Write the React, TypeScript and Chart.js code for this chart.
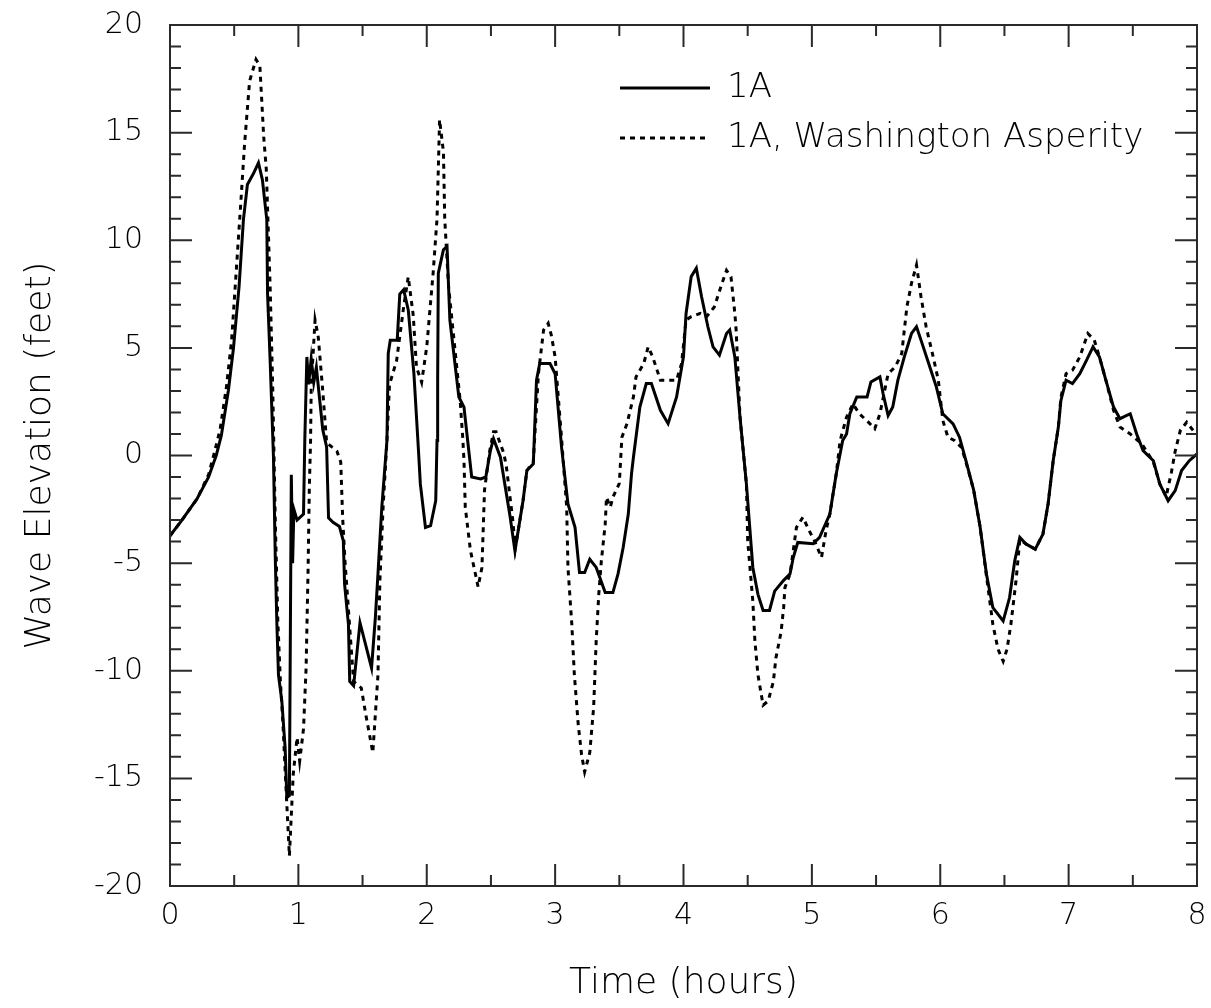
import React, { useEffect, useRef } from "react";
import { Chart, registerables } from "chart.js";

Chart.register(...registerables);

// Time (hours) and wave elevation (feet)
const solidTime = [
  0.0, 0.09, 0.21, 0.3, 0.36, 0.4, 0.455, 0.494, 0.538, 0.572, 0.603, 0.65, 0.689, 0.72, 0.754, 0.76, 0.78, 0.806,
  0.82, 0.832, 0.845, 0.871, 0.897, 0.91, 0.93, 0.945, 0.955, 0.965, 0.99, 1.04, 1.05, 1.066, 1.08, 1.1, 1.12, 1.14,
  1.19, 1.22, 1.235, 1.27, 1.32, 1.35, 1.36, 1.39, 1.4, 1.43, 1.48, 1.57, 1.6, 1.62, 1.65, 1.69, 1.7, 1.716, 1.77,
  1.79, 1.82, 1.856, 1.9, 1.937, 1.95, 1.99, 2.03, 2.07, 2.08, 2.085, 2.09, 2.13, 2.158, 2.18, 2.25, 2.29, 2.33, 2.35,
  2.42, 2.46, 2.496, 2.52, 2.574, 2.65, 2.687, 2.75, 2.78, 2.83, 2.855, 2.88, 2.96, 3.0, 3.05, 3.1, 3.155, 3.19, 3.23,
  3.27, 3.32, 3.39, 3.45, 3.49, 3.53, 3.57, 3.595, 3.61, 3.66, 3.71, 3.75, 3.82, 3.88, 3.946, 4.0, 4.02, 4.06, 4.1,
  4.14, 4.19, 4.23, 4.28, 4.335, 4.36, 4.4, 4.44, 4.49, 4.54, 4.58, 4.62, 4.67, 4.71, 4.78, 4.83, 4.855, 4.89, 5.01,
  5.06, 5.14, 5.19, 5.24, 5.27, 5.296, 5.35, 5.43, 5.46, 5.53, 5.555, 5.594, 5.63, 5.67, 5.72, 5.776, 5.815, 5.85,
  5.91, 5.97, 6.02, 6.1, 6.15, 6.2, 6.26, 6.31, 6.36, 6.41, 6.49, 6.54, 6.58, 6.62, 6.67, 6.74, 6.8, 6.84, 6.88, 6.92,
  6.94, 6.98, 7.03, 7.087, 7.14, 7.19, 7.24, 7.29, 7.35, 7.4, 7.48, 7.53, 7.58, 7.66, 7.71, 7.775, 7.83, 7.88, 7.94, 8.0,
];
const solidElev = [
  -3.73, -3.03, -2.02, -1.01, 0.0, 0.93, 3.03, 4.97, 7.85, 10.96, 12.59, 13.1, 13.6, 12.8, 10.96, 7.5, 4.43, -0.08,
  -4.74, -7.7, -10.2, -11.4, -13.6, -15.9, -15.8, -0.9, -5.0, -2.5, -3.0, -2.72, 0.7, 4.58, 3.3, 4.5, 3.4, 4.1,
  1.2, 0.4, -2.9, -3.1, -3.3, -3.96, -5.98, -7.85, -10.5, -10.7, -7.77, -9.87, -7.5, -5.5, -2.4, 0.7, 4.74, 5.36, 5.36,
  7.5, 7.7, 6.76, 3.8, 0.08, -1.32, -3.34, -3.26, -2.1, 0.7, 3.5, 8.47, 9.56, 9.71, 6.3, 2.72, 2.25, 0.08, -1.0,
  -1.09, -1.0, 0.23, 0.78, -0.08, -2.87, -4.43, -2.1, -0.7, -0.39, 3.5, 4.27, 4.27, 3.8, 0.39, -2.25, -3.34, -5.44, -5.44,
  -4.82, -5.2, -6.37, -6.37, -5.5, -4.27, -2.72, -0.85, -0.08, 2.25, 3.34, 3.34, 2.1, 1.48, 2.72, 4.6, 6.6, 8.31, 8.7,
  7.4, 5.98, 5.05, 4.66, 5.67, 5.83, 4.58, 1.79, -1.32, -5.2, -6.45, -7.2, -7.2, -6.3, -5.8, -5.5, -4.74, -4.04, -4.1,
  -3.8, -2.72, -0.85, 0.7, 1.0, 1.94, 2.72, 2.72, 3.42, 3.65, 2.87, 1.86, 2.25, 3.5, 4.58, 5.67, 5.98, 5.36,
  4.27, 3.18, 1.94, 1.47, 0.85, -0.24, -1.6, -3.3, -5.52, -7.07, -7.69, -6.6, -4.9, -3.8, -4.12, -4.35, -3.65, -2.25, -0.23, 1.32,
  2.56, 3.5, 3.34, 3.8, 4.43, 5.05, 4.58, 3.5, 2.25, 1.71, 1.94, 1.0, 0.23, -0.24, -1.32, -2.1, -1.63, -0.7, -0.24, 0.07,
];

const dottedTime = [
  0.0, 0.09, 0.21, 0.3, 0.34, 0.39, 0.44, 0.48, 0.55, 0.58, 0.6, 0.62, 0.67, 0.7, 0.71, 0.73, 0.75, 0.78, 0.8, 0.82,
  0.84, 0.86, 0.88, 0.9, 0.93, 0.96, 0.99, 1.01, 1.04, 1.06, 1.075, 1.085, 1.095, 1.1, 1.13, 1.155, 1.19, 1.22, 1.26,
  1.3, 1.33, 1.345, 1.363, 1.43, 1.49, 1.53, 1.58, 1.62, 1.635, 1.66, 1.69, 1.71, 1.765, 1.82, 1.856, 1.895, 1.92,
  1.96, 2.0, 2.05, 2.08, 2.1, 2.13, 2.14, 2.17, 2.21, 2.26, 2.28, 2.29, 2.3, 2.34, 2.4, 2.43, 2.45, 2.49, 2.52, 2.54,
  2.6, 2.62, 2.67, 2.69, 2.75, 2.78, 2.83, 2.87, 2.91, 2.946, 2.97, 3.0, 3.05, 3.09, 3.1, 3.13, 3.15, 3.18, 3.206,
  3.23, 3.27, 3.3, 3.32, 3.34, 3.36, 3.39, 3.4, 3.43, 3.45, 3.5, 3.52, 3.56, 3.61, 3.63, 3.69, 3.725, 3.76, 3.82,
  3.946, 3.985, 4.02, 4.06, 4.13, 4.18, 4.24, 4.3, 4.335, 4.37, 4.4, 4.41, 4.44, 4.49, 4.5, 4.54, 4.556, 4.58, 4.62,
  4.66, 4.7, 4.72, 4.76, 4.78, 4.79, 4.83, 4.88, 4.93, 4.98, 5.02, 5.075, 5.11, 5.14, 5.19, 5.22, 5.27, 5.32, 5.37,
  5.44, 5.49, 5.53, 5.594, 5.65, 5.7, 5.74, 5.776, 5.815, 5.85, 5.89, 5.945, 5.985, 6.02, 6.06, 6.11, 6.165, 6.2,
  6.26, 6.31, 6.36, 6.41, 6.45, 6.49, 6.52, 6.55, 6.59, 6.62, 6.67, 6.74, 6.8, 6.84, 6.88, 6.92, 6.94, 6.98, 7.03,
  7.087, 7.15, 7.2, 7.24, 7.29, 7.35, 7.4, 7.48, 7.57, 7.66, 7.71, 7.76, 7.8, 7.83, 7.87, 7.92, 7.98, 8.0,
];
const dottedElev = [
  -3.73, -3.03, -2.02, -0.9, 0.0, 1.2, 3.2, 5.36, 11.6, 14.4, 15.9, 17.4, 18.4, 18.1, 17.0, 14.8, 13.3, 7.85, 3.2, -3.0,
  -7.7, -10.5, -12.5, -15.0, -18.6, -14.8, -13.1, -14.2, -12.7, -9.9, -5.5, -1.6, 0.7, 3.2, 6.3, 5.5, 3.0, 0.6, 0.4,
  0.2, -0.3, -2.9, -4.9, -10.5, -10.8, -12.2, -13.8, -10.2, -5.8, -2.4, 0.7, 3.3, 4.4, 6.9, 8.3, 6.5, 4.1,
  3.4, 5.05, 8.5, 11.0, 15.6, 14.1, 11.0, 7.85, 5.5, 2.56, 0.85, -0.23, -2.4, -4.4, -6.1, -5.2, -1.6, 0.2, 1.1, 1.1,
  0.1, -0.5, -3.0, -4.3, -2.1, -0.7, -0.3, 3.8, 5.83, 6.14, 5.6, 4.58, 0.8, -2.4, -5.2, -7.85, -10.2, -12.5, -13.9,
  -14.7, -13.8, -11.7, -8.6, -6.45, -4.9, -3.2, -1.94, -2.4, -1.94, -1.3, 0.85, 1.48, 2.72, 3.65, 4.27, 5.05, 4.58, 3.5,
  3.5, 4.27, 6.3, 6.45, 6.6, 6.45, 6.9, 8.0, 8.6, 8.3, 6.6, 5.83, 1.79, -1.32, -3.96, -6.76, -8.6, -10.2, -11.6,
  -11.4, -10.5, -9.4, -8.2, -7.07, -6.14, -5.5, -3.34, -2.87, -3.5, -3.96, -4.74, -3.5, -2.72, -0.85, 0.7, 1.78, 2.4, 1.94,
  1.55, 1.24, 1.94, 3.8, 4.12, 4.74, 6.9, 8.0, 8.85, 7.38, 5.98, 4.58, 3.5, 1.63, 0.85, 0.7, 0.38, -0.3,
  -1.6, -3.3, -5.6, -7.85, -9.0, -9.56, -9.0, -7.85, -5.83, -3.9, -4.12, -4.35, -3.65, -2.25, -0.23, 1.32, 2.7, 3.8, 3.96,
  4.58, 5.67, 5.36, 4.58, 3.5, 2.1, 1.32, 1.0, 0.54, -0.3, -1.32, -1.9, -0.8, 0.2, 1.16, 1.55, 1.08, 1.0,
];

const seriesLabels = ["1A", "1A, Washington Asperity"];
const xTitle = "Time (hours)";
const yTitle = "Wave Elevation (feet)";

const FONT = "'DejaVu Sans', 'Liberation Sans', sans-serif";
const WEIGHT = "200";
const INK = "#000000";
const FRAME = "#2a2a2a";

const framePlugin = {
  id: "frameTicks",
  afterLayout(chart: any) {
    const lg = chart.legend;
    if (lg) {
      lg.left = 604;
      lg.top = 55;
      lg.right = 1200;
      lg.bottom = 300;
    }
  },
  afterDatasetsDraw(chart: any) {
    const { ctx, chartArea: a, scales } = chart;
    const xs = scales.x;
    const ys = scales.y;
    const major = 22;
    const minor = 11;
    ctx.save();
    ctx.strokeStyle = FRAME;
    ctx.lineWidth = 2;
    ctx.setLineDash([]);
    ctx.beginPath();
    for (let i = 0; i <= Math.round((xs.max - xs.min) * 2); i++) {
      const v = xs.min + i * 0.5;
      const px = xs.getPixelForValue(v);
      const len = i % 2 === 0 ? major : minor;
      ctx.moveTo(px, a.bottom);
      ctx.lineTo(px, a.bottom - len);
      ctx.moveTo(px, a.top);
      ctx.lineTo(px, a.top + len);
    }
    for (let i = 0; i <= Math.round(ys.max - ys.min); i++) {
      const v = ys.min + i;
      const py = ys.getPixelForValue(v);
      const len = i % 5 === 0 ? major : minor;
      ctx.moveTo(a.left, py);
      ctx.lineTo(a.left + len, py);
      ctx.moveTo(a.right, py);
      ctx.lineTo(a.right - len, py);
    }
    ctx.stroke();
    ctx.strokeRect(a.left, a.top, a.right - a.left, a.bottom - a.top);
    ctx.restore();
  },
};

export default function App() {
  const ref = useRef<HTMLCanvasElement | null>(null);

  useEffect(() => {
    if (!ref.current) return;
    const solid = solidTime.map((t, i) => ({ x: t, y: solidElev[i] }));
    const dotted = dottedTime.map((t, i) => ({ x: t, y: dottedElev[i] }));
    const baseLabels = (Chart.defaults as any).plugins.legend.labels.generateLabels;
    const chart = new Chart(ref.current, {
      type: "line",
      data: {
        datasets: [
          {
            label: seriesLabels[0],
            data: solid,
            borderColor: INK,
            backgroundColor: INK,
            borderWidth: 3,
            pointRadius: 0,
            tension: 0,
            fill: false,
          },
          {
            label: seriesLabels[1],
            data: dotted,
            borderColor: INK,
            backgroundColor: INK,
            borderWidth: 3,
            borderDash: [5, 5],
            pointRadius: 0,
            tension: 0,
            fill: false,
          },
        ],
      },
      options: {
        responsive: false,
        animation: false,
        devicePixelRatio: 1,
        layout: { padding: { top: 25, right: 14, left: 0, bottom: 0 } },
        plugins: {
          tooltip: { enabled: false },
          legend: {
            position: "chartArea" as any,
            align: "start",
            labels: {
              usePointStyle: true,
              pointStyle: "line",
              pointStyleWidth: 90,
              boxHeight: 3,
              padding: 16,
              color: INK,
              font: { family: FONT, size: 34, weight: WEIGHT as any },
              generateLabels: (c: any) =>
                baseLabels(c).map((item: any, i: number) => ({
                  ...item,
                  pointStyle: "line",
                  lineWidth: 3,
                  lineDash: (c.data.datasets[i] as any).borderDash || [],
                  strokeStyle: INK,
                })),
            },
          },
        },
        scales: {
          x: {
            type: "linear",
            min: 0,
            max: 8,
            afterFit: (s: any) => {
              s.height = 122;
              s.paddingLeft = 0;
              s.paddingRight = 0;
            },
            ticks: {
              stepSize: 1,
              color: INK,
              padding: 12,
              maxRotation: 0,
              font: { family: FONT, size: 30, weight: WEIGHT as any },
            },
            grid: { display: false, drawTicks: false },
            border: { display: false },
            title: {
              display: true,
              text: xTitle,
              color: INK,
              font: { family: FONT, size: 36, weight: WEIGHT as any },
              padding: { top: 0, bottom: 3 },
            },
          },
          y: {
            type: "linear",
            min: -20,
            max: 20,
            afterFit: (s: any) => {
              s.width = 170;
              s.paddingTop = 0;
              s.paddingBottom = 0;
            },
            ticks: {
              stepSize: 5,
              color: INK,
              padding: 27,
              font: { family: FONT, size: 30, weight: WEIGHT as any },
            },
            grid: { display: false, drawTicks: false },
            border: { display: false },
            title: {
              display: true,
              text: yTitle,
              color: INK,
              font: { family: FONT, size: 36, weight: WEIGHT as any },
              padding: { top: 19, bottom: 0 },
            },
          },
        },
      },
      plugins: [framePlugin],
    });
    return () => chart.destroy();
  }, []);

  return (
    <div style={{ position: "absolute", left: 0, top: 0, width: 1211, height: 1008, background: "#fff" }}>
      <canvas ref={ref} width={1211} height={1008} style={{ display: "block" }} />
    </div>
  );
}
